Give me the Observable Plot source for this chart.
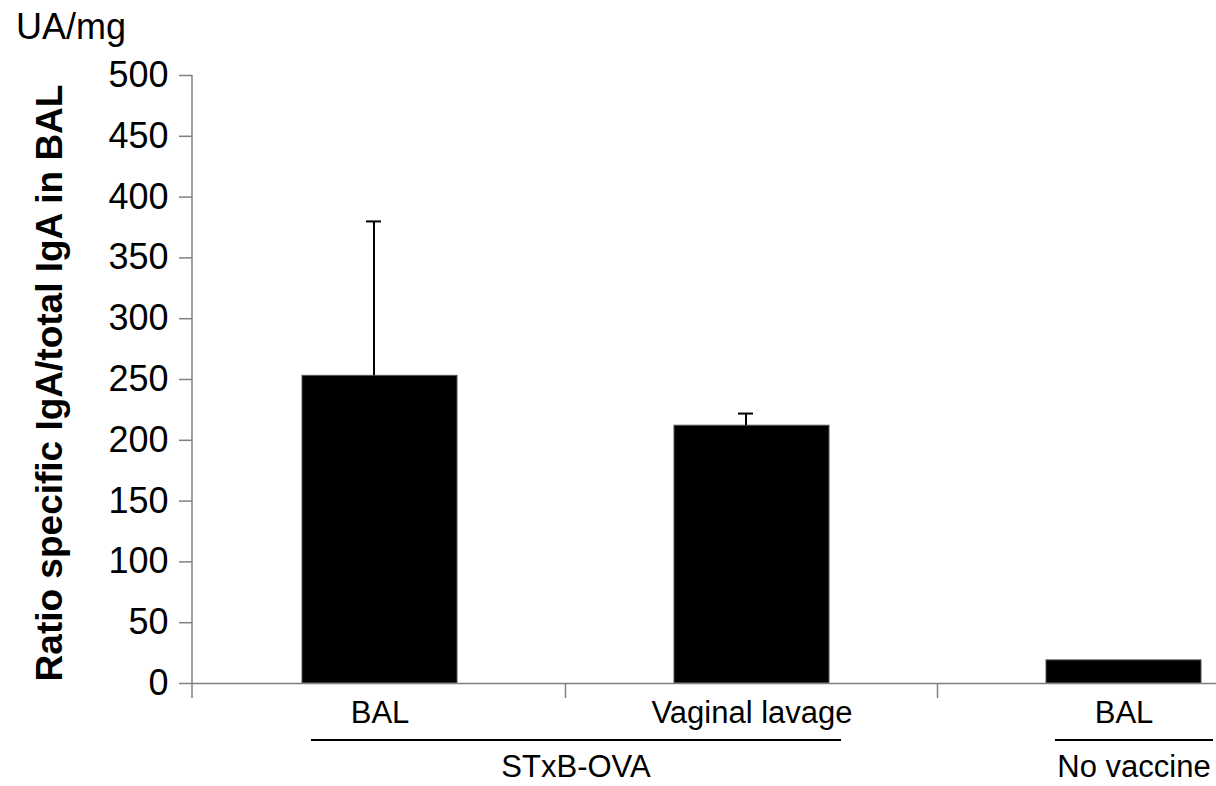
<!DOCTYPE html>
<html>
<head>
<meta charset="utf-8">
<script src="https://cdn.jsdelivr.net/npm/d3@7"></script>
<script src="https://cdn.jsdelivr.net/npm/@observablehq/plot@0.6"></script>
<style>
  html, body { margin: 0; padding: 0; background: #fff; }
  #chart { width: 1216px; height: 786px; }
</style>
</head>
<body>
<div id="chart"></div>
<script>
// ---- data ----
const keys = ["STxB-OVA BAL", "STxB-OVA Vaginal lavage", "No vaccine BAL"];
const labels = ["BAL", "Vaginal lavage", "BAL"];
const groups = ["STxB-OVA", "STxB-OVA", "No vaccine"];
const values = [253, 212, 19];
const errors = [127, 10, 0];
const yTicks = [0, 50, 100, 150, 200, 250, 300, 350, 400, 450, 500];
const yLabel = "Ratio specific IgA/total IgA in BAL";
const unitLabel = "UA/mg";

const rows = keys.map((k, i) => ({key: k, label: labels[i], group: groups[i], value: values[i], err: errors[i]}));
const labelOf = Object.fromEntries(rows.map(d => [d.key, d.label]));

const W = 1216, H = 786;
const marginLeft = 192, marginTop = 75, marginBottom = 103, marginRight = 0;
const pi = 0.584;
const font = "'Liberation Sans', Arial, Helvetica, sans-serif";

const plot = Plot.plot({
  width: W,
  height: H,
  marginLeft, marginTop, marginBottom, marginRight,
  style: {fontFamily: font, fontSize: "32px", color: "black", background: "white", overflow: "visible"},
  x: {type: "band", domain: keys, range: [marginLeft, 1310], paddingInner: pi, paddingOuter: pi / 2, align: 0.5,
      tickSize: 0, tickPadding: 17, tickFormat: d => labelOf[d], label: null},
  y: {domain: [0, 500], ticks: yTicks, tickSize: 13, tickPadding: 11, label: null, tickFormat: d => String(d)},
  marks: [
    Plot.barY(rows, {x: "key", y: "value", fill: "black", stroke: "#555", strokeWidth: 1}),
    Plot.ruleX(rows.filter(d => d.err > 0), {x: "key", y1: "value", y2: d => d.value + d.err, stroke: "black", strokeWidth: 2, dx: -6}),
    Plot.tickY(rows.filter(d => d.err > 0), {x: "key", y: d => d.value + d.err, stroke: "black", strokeWidth: 2, insetLeft: 70, insetRight: 70, dx: -6}),
    Plot.ruleY([0], {stroke: "#808080", strokeWidth: 1.5})
  ]
});

document.getElementById("chart").appendChild(plot);

// ---- decorations using the plot's scales ----
const sx = plot.scale("x");
const sy = plot.scale("y");
let xf, yf;
if (sx && typeof sx.apply === "function") { xf = sx.apply; }
else { xf = d3.scaleBand(sx.domain, sx.range).paddingInner(pi).paddingOuter(pi / 2).align(0.5); }
if (sy && typeof sy.apply === "function") { yf = sy.apply; }
else { yf = d3.scaleLinear(sy.domain, sy.range); }
const bw = sx.bandwidth;
const step = sx.step;

const svg = d3.select(plot);
svg.selectAll("g[aria-label^='y-axis'] line, g[aria-label^='y-axis'] path").attr("stroke", "#808080").attr("stroke-width", 1.5);
svg.selectAll("g[aria-label^='y-axis'] text").attr("font-size", "36px").style("font-size", "36px").attr("fill", "black");
svg.selectAll("g[aria-label^='x-axis'] text").attr("font-size", "31px").style("font-size", "31px").attr("fill", "black");

const y0 = yf(0), yTop = yf(500);
const deco = svg.append("g").attr("font-family", font).attr("fill", "black").attr("text-anchor", "start");

// y axis line
deco.append("line").attr("x1", marginLeft).attr("x2", marginLeft)
  .attr("y1", yTop).attr("y2", y0 + 15).attr("stroke", "#808080").attr("stroke-width", 1.5);

// category boundary ticks
keys.slice(1).forEach(k => {
  const bx = xf(k) - (step - bw) / 2;
  deco.append("line").attr("x1", bx).attr("x2", bx).attr("y1", y0).attr("y2", y0 + 15)
    .attr("stroke", "#808080").attr("stroke-width", 1.5);
});

// group lines and labels
const groupNames = Array.from(new Set(groups));
groupNames.forEach(g => {
  const ks = rows.filter(d => d.group === g).map(d => d.key);
  const x1 = xf(ks[0]) + 9;
  const x2 = Math.min(W, xf(ks[ks.length - 1]) + bw + 12);
  deco.append("line").attr("x1", x1).attr("x2", x2).attr("y1", y0 + 57).attr("y2", y0 + 57)
    .attr("stroke", "black").attr("stroke-width", 2);
  deco.append("text").attr("x", (x1 + x2) / 2).attr("y", y0 + 94)
    .attr("text-anchor", "middle").style("font-size", "31px").text(g);
});

// y label (rotated, bold)
deco.append("text")
  .attr("transform", `translate(62,${yf(250) + 4}) rotate(-90)`)
  .attr("text-anchor", "middle").attr("font-weight", "bold").style("font-size", "37px")
  .text(yLabel);

// unit label
deco.append("text").attr("x", 16).attr("y", 39).attr("text-anchor", "start").style("font-size", "36px").text(unitLabel);
</script>
</body>
</html>
